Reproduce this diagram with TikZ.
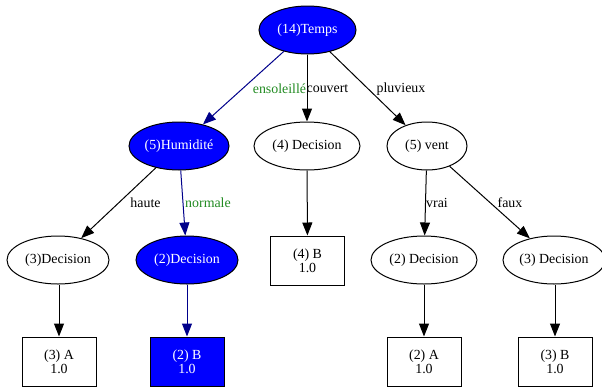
\documentclass[tikz,border=0pt]{standalone}
\usepackage{fontspec}
\setmainfont{Liberation Serif}
\usetikzlibrary{shapes.geometric,arrows.meta}
\definecolor{nodeblue}{RGB}{0,0,255}
\definecolor{edgeblue}{RGB}{0,0,139}
\definecolor{lblgreen}{RGB}{34,139,34}
\begin{document}
\begin{tikzpicture}[x=1pt,y=-1pt,
  font=\fontsize{13.9}{14}\selectfont,
  ell/.style={draw=black,line width=1pt,ellipse,inner sep=0pt,minimum height=48pt},
  leaf/.style={draw=black,line width=1pt,rectangle,inner sep=0pt,minimum width=74pt,minimum height=49pt,align=center},
  hl/.style={fill=nodeblue,text=white},
  edge/.style={line width=1pt,-{Triangle[length=13pt,width=10pt]}},
  hledge/.style={edge,draw=edgeblue,-{Triangle[length=13pt,width=10pt,fill=edgeblue]}},
  lbl/.style={inner sep=0pt,anchor=center}]
\useasboundingbox (0,0) rectangle (602,386);
\begin{scope}
\clip (0,0) rectangle (602,386);
% nodes
\node[ell,hl,minimum width=97pt] (temps) at (307.5,30) {(14)Temps};
\node[ell,hl,minimum width=100pt] (hum) at (179,146) {(5)Humidité};
\node[ell,minimum width=106pt] (d4) at (307,146) {(4) Decision};
\node[ell,minimum width=80pt] (vent) at (427,146) {(5) vent};
\node[ell,minimum width=102pt] (d3l) at (58,260) {(3)Decision};
\node[ell,hl,minimum width=102pt] (d2l) at (187,260) {(2)Decision};
\node[leaf] (b4) at (307.5,260.5) {(4) B\\1.0};
\node[ell,minimum width=106pt] (d2r) at (424,260) {(2) Decision};
\node[ell,minimum width=102pt] (d3r) at (554,260) {(3) Decision};
\node[leaf] (a3) at (59,361.5) {(3) A\\1.0};
\node[leaf,hl] (b2) at (187,361.5) {(2) B\\1.0};
\node[leaf] (a2) at (424,361.5) {(2) A\\1.0};
\node[leaf] (b3) at (555,361.5) {(3) B\\1.0};
% edges
\draw[hledge] (temps) -- (hum);
\draw[edge] (temps.south -| d4) -- (d4);
\draw[edge] (temps) -- (vent);
\draw[edge] (hum) -- (d3l);
\draw[hledge] (hum) -- (d2l);
\draw[edge] (d3l.south -| a3) -- (a3);
\draw[hledge] (d2l) -- (b2);
\draw[edge] (d4) -- (b4);
\draw[edge] (vent) -- (d2r);
\draw[edge] (vent) -- (d3r);
\draw[edge] (d2r) -- (a2);
\draw[edge] (d3r.south -| b3) -- (b3);
% labels
\node[lbl,text=lblgreen] (l1) at (279.5,89) {ensoleillé};
\node[lbl] (l2) at (327.5,89) {couvert};
\node[lbl] (l3) at (401,89) {pluvieux};
\node[lbl] (l4) at (145.5,203) {haute};
\node[lbl,text=lblgreen] (l5) at (208,203) {normale};
\node[lbl] (l6) at (437,203) {vrai};
\node[lbl] (l7) at (510,203) {faux};
\end{scope}
\end{tikzpicture}
\end{document}
